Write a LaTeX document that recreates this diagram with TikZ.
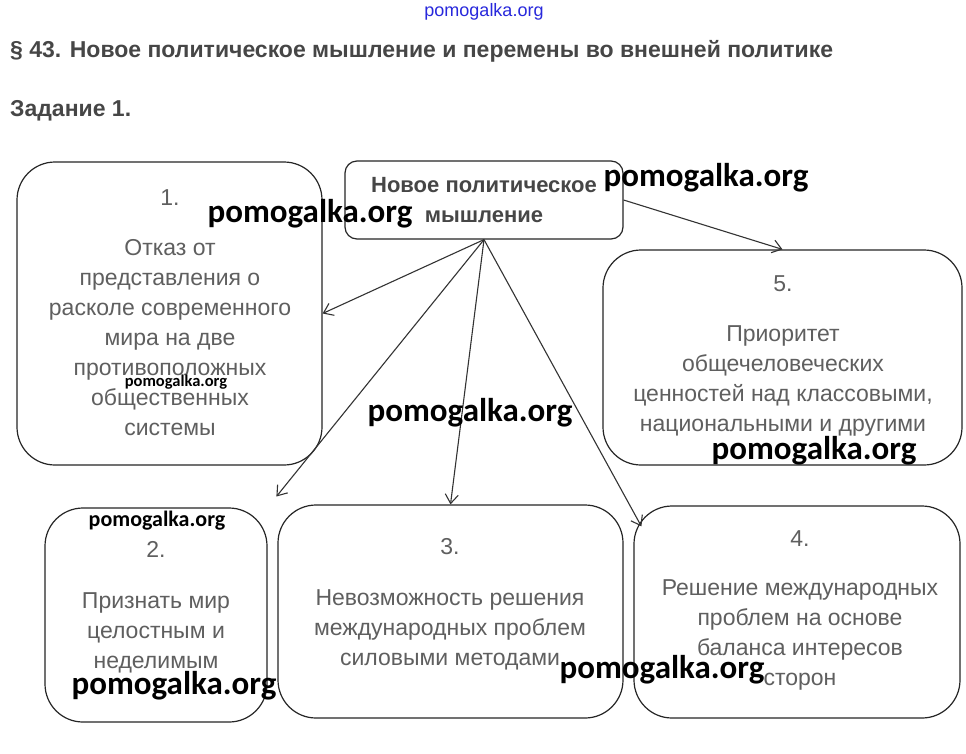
\documentclass[tikz,border=0pt]{standalone}
\usepackage{fontspec}
\setmainfont{Liberation Sans}
\newfontfamily\markfont{Carlito}
\usetikzlibrary{arrows.meta,positioning,calc}
\definecolor{textgray}{RGB}{95,95,95}
\definecolor{titlegray}{RGB}{70,70,70}
\definecolor{markblue}{RGB}{40,40,220}

\begin{document}
\begin{tikzpicture}[
    x=1pt, y=-1pt,
    every node/.style={font=\fontsize{23}{30}\selectfont},
    idea/.style={rectangle, draw=black!85, line width=1.2pt, rounded corners=38pt, inner sep=0pt},
    core/.style={rectangle, draw=black!85, line width=1.2pt, rounded corners=12pt, minimum width=278pt, minimum height=78pt, align=center, text=titlegray, font=\bfseries\fontsize{22}{30}\selectfont},
    ideatext/.style={align=center, text=textgray, anchor=north, inner sep=0pt},
    heading/.style={anchor=west, inner sep=0pt, text=titlegray, font=\bfseries\fontsize{23}{26}\selectfont},
    arrow/.style={-{Straight Barb[length=9pt,width=13pt]}, line width=1.1pt, color=black!80},
    watermark/.style={inner sep=0pt, text=black, font=\markfont\bfseries\fontsize{33}{33}\selectfont},
    smallmark/.style={watermark, font=\markfont\bfseries\fontsize{16.5}{17}\selectfont},
    midmark/.style={watermark, font=\markfont\bfseries\fontsize{22}{22}\selectfont}
]
\useasboundingbox[fill=white] (0,0) rectangle (966,753);

% Headings
\node[inner sep=0pt, text=markblue, font=\fontsize{18}{18}\selectfont] (site) at (484,12) {pomogalka.org};
\node[heading] (title) at (10,51) {\S\ 43. Новое политическое мышление и перемены во внешней политике};
\node[heading] (task) at (10,111) {Задание 1.};

% Central idea
\node[core] (core) at (484,200) {Новое политическое\\мышление};

% Outcome boxes
\node[idea, minimum width=305pt, minimum height=303pt] (box1) at (169.5,313.5) {};
\node[idea, minimum width=359pt, minimum height=215pt] (box5) at (782.5,357.5) {};
\node[idea, minimum width=222pt, minimum height=214pt] (box2) at (156,615) {};
\node[idea, minimum width=345pt, minimum height=213pt] (box3) at (450.5,611.5) {};
\node[idea, minimum width=326pt, minimum height=212pt] (box4) at (797,612) {};

% Box texts
\node[ideatext] (text1) at (170,189) {1.\\[20pt]Отказ от\\представления о\\расколе современного\\мира на две\\противоположных\\общественных\\системы};
\node[ideatext] (text5) at (783,275) {5.\\[20pt]Приоритет\\общечеловеческих\\ценностей над классовыми,\\национальными и другими};
\node[ideatext] (text2) at (156,541) {2.\\[21pt]Признать мир\\целостным и\\неделимым};
\node[ideatext] (text3) at (450,538) {3.\\[21pt]Невозможность решения\\международных проблем\\силовыми методами};
\node[ideatext] (text4) at (800,530) {4.\\[19pt]Решение международных\\проблем на основе\\баланса интересов\\сторон};

% Connections from the central idea
\draw[arrow] (core.south) -- (box1.east);
\draw[arrow, shorten >=14pt] (core.south) -- (box2.north east);
\draw[arrow] (core.south) -- (box3.north);
\draw[arrow] (core.south) -- ($(box4.north west)+(8,21)$);
\draw[arrow] (core.east) -- (box5.north);

% Watermarks
\node[watermark] (mark1) at (310,214) {pomogalka.org};
\node[watermark] (mark2) at (706,178) {pomogalka.org};
\node[smallmark] (mark3) at (176,382) {pomogalka.org};
\node[watermark] (mark4) at (470,413) {pomogalka.org};
\node[watermark] (mark5) at (814,451) {pomogalka.org};
\node[midmark] (mark6) at (157,521) {pomogalka.org};
\node[watermark] (mark7) at (174,686) {pomogalka.org};
\node[watermark] (mark8) at (662,670) {pomogalka.org};

\end{tikzpicture}
\end{document}
